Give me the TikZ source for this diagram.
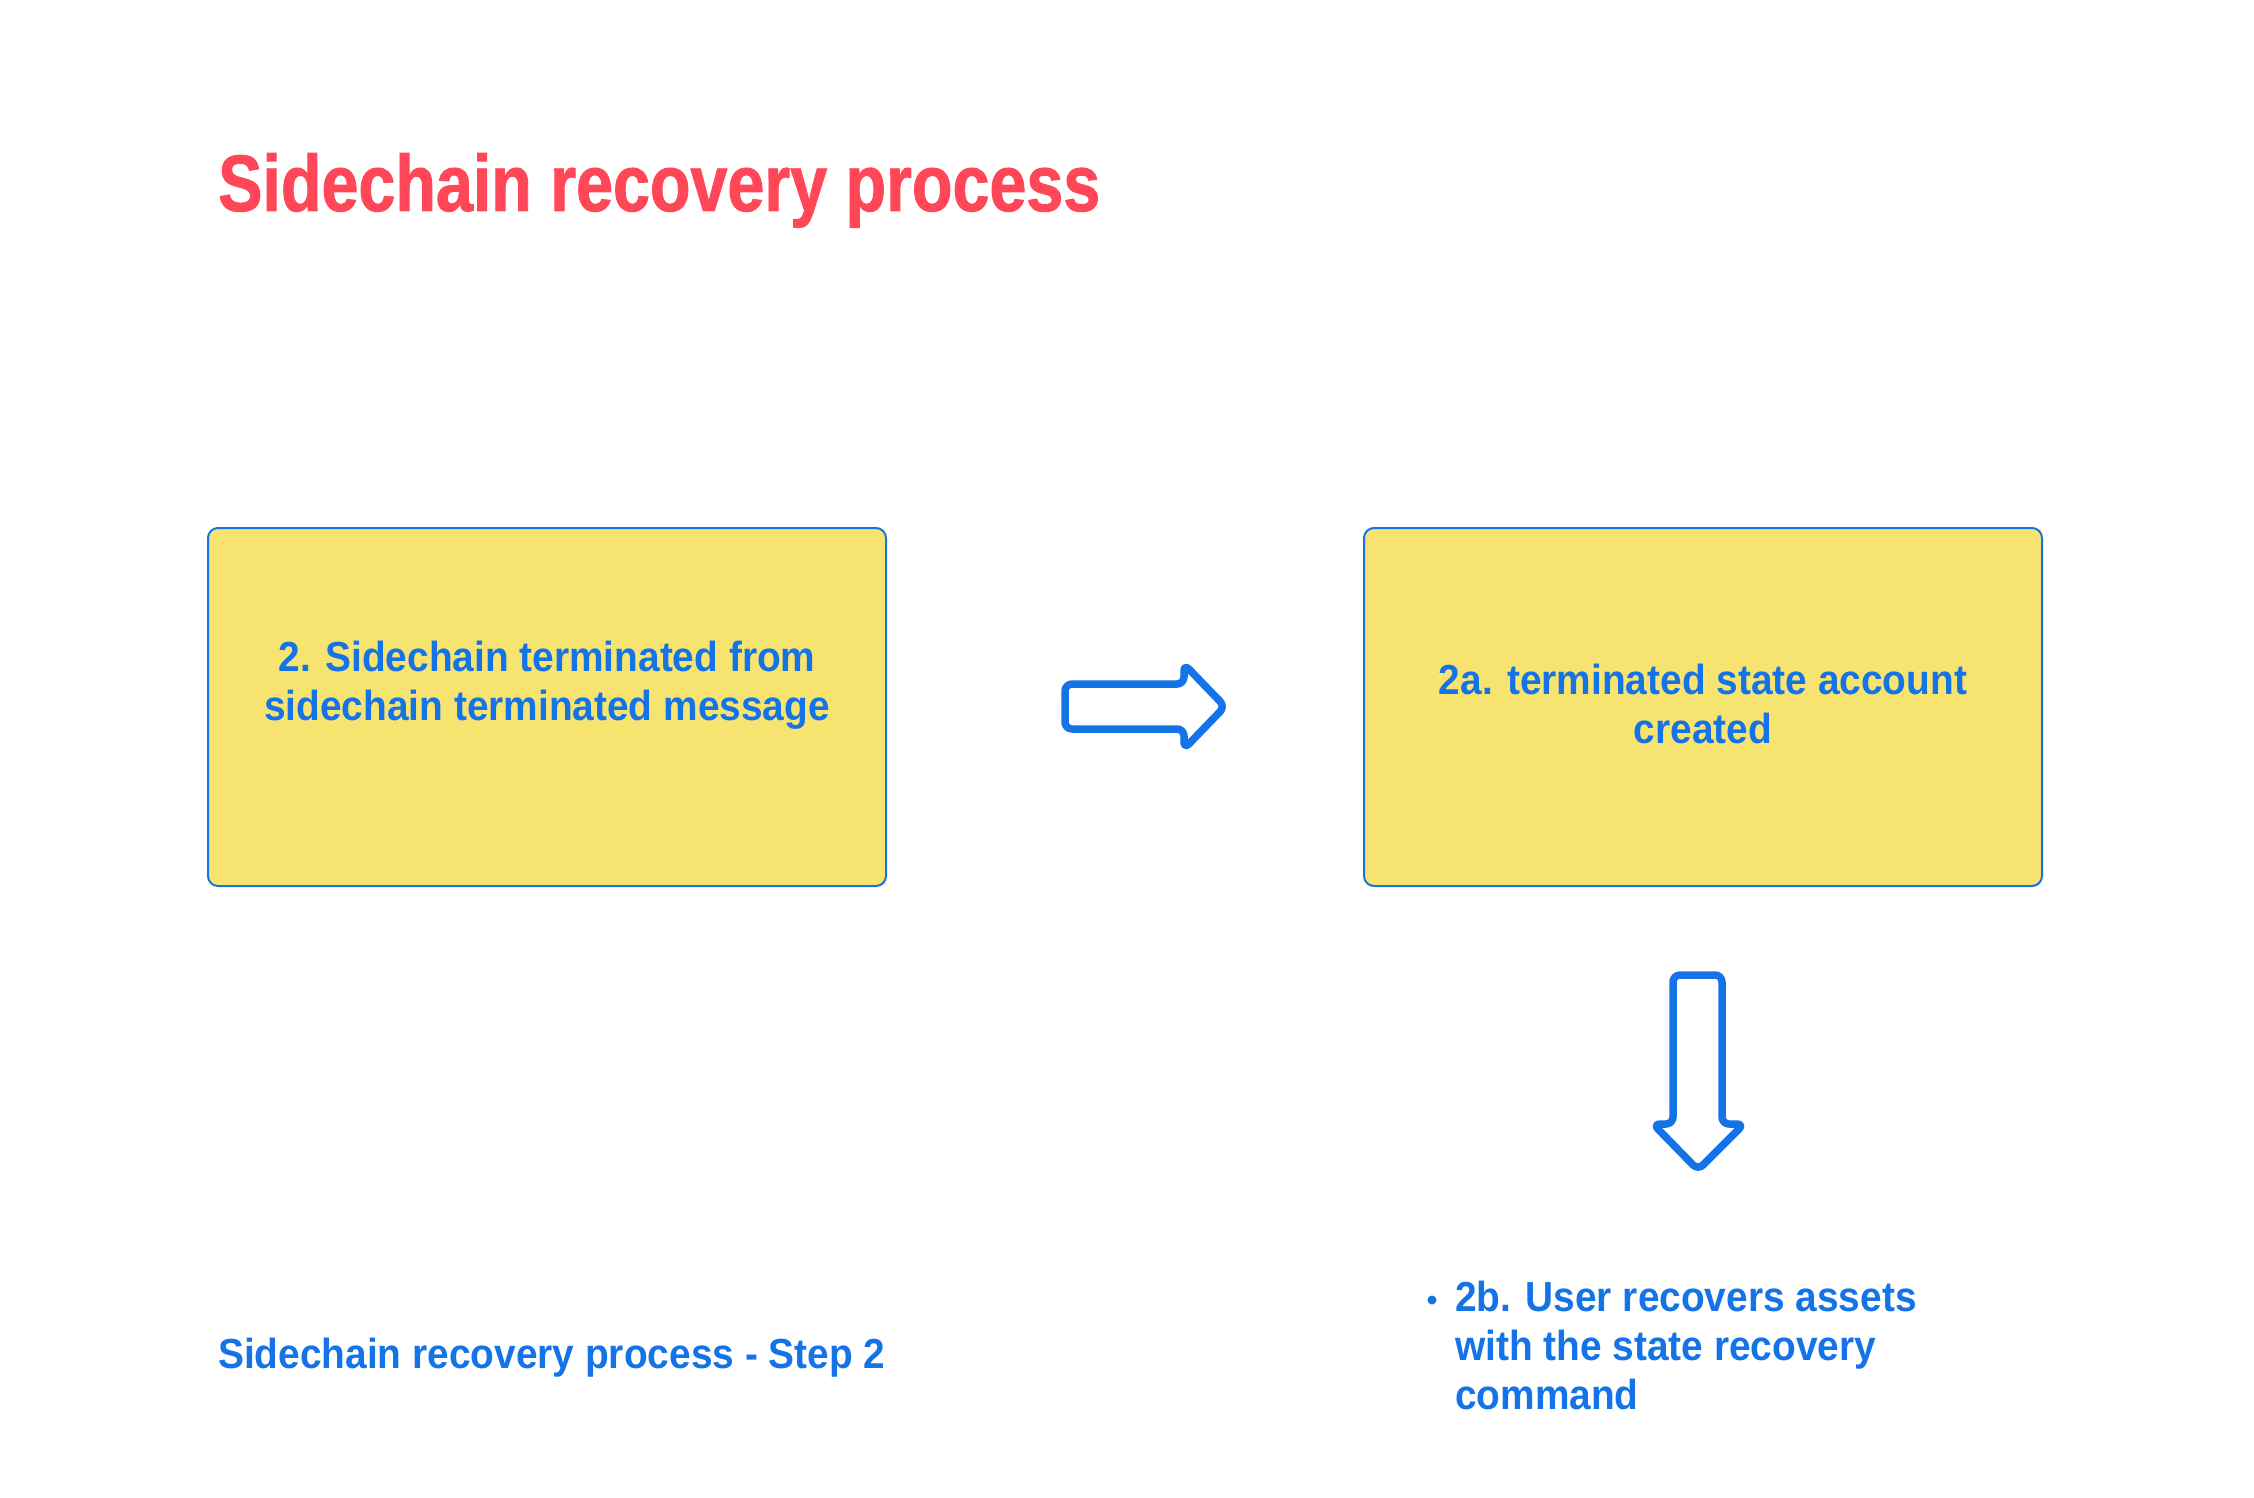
\documentclass[tikz,border=0pt]{standalone}
\usepackage{fontspec}
\setmainfont{Liberation Sans}
\newfontfamily\headfont[FakeStretch=0.83,FakeBold=1.2]{Liberation Sans}
\newfontfamily\bodyfont[FakeStretch=0.925]{Liberation Sans}
\definecolor{titlered}{HTML}{FF4757}
\definecolor{stepblue}{HTML}{1473E6}
\definecolor{boxyellow}{HTML}{F7E36F}
\begin{document}
\begin{tikzpicture}[x=1pt,y=-1pt,
  stepbox/.style={draw=stepblue,line width=2pt,fill=boxyellow,rounded corners=10pt},
  blocktext/.style={text=stepblue,font=\bodyfont\bfseries\fontsize{42}{49}\selectfont,align=center},
  plaintext/.style={text=stepblue,font=\bodyfont\bfseries\fontsize{42}{49}\selectfont,align=left,anchor=west,inner sep=0pt},
  bigarrow/.style={draw=stepblue,line width=7.5pt,line join=round,rounded corners=7pt}]
\useasboundingbox (0,0) rectangle (2254,1498);
\fill[white] (0,0) rectangle (2254,1498);

% heading
\node[anchor=base west,inner sep=0pt,text=titlered,font=\headfont\bfseries\fontsize{80}{90}\selectfont] (title) at (218,211) {Sidechain recovery process};

% step boxes
\draw[stepbox] (208,528) rectangle (886,886);
\node[blocktext] (b1) at (547,685) {2. Sidechain terminated from\\sidechain terminated message};
\draw[stepbox] (1364,528) rectangle (2042,886);
\node[blocktext] (b2) at (1703,704) {2a. terminated state account\\created};

% block arrows
\draw[bigarrow] (1065,684) -- (1184,684) -- (1184,664) -- (1225,706.5) -- (1184,749) -- (1184,729) -- (1065,729) -- cycle;
\draw[bigarrow] (1673,975) -- (1722,975) -- (1722,1124) -- (1744,1124) -- (1698,1170) -- (1653,1124) -- (1673,1124) -- cycle;

% captions
\node[plaintext] (cap) at (218,1358) {Sidechain recovery process - Step 2};
\node[circle,fill=stepblue,inner sep=0pt,minimum size=9pt] (dot) at (1432,1300) {};
\node[plaintext,anchor=north west] (b3) at (1455,1281) {2b. User recovers assets\\with the state recovery\\command};
\end{tikzpicture}
\end{document}
